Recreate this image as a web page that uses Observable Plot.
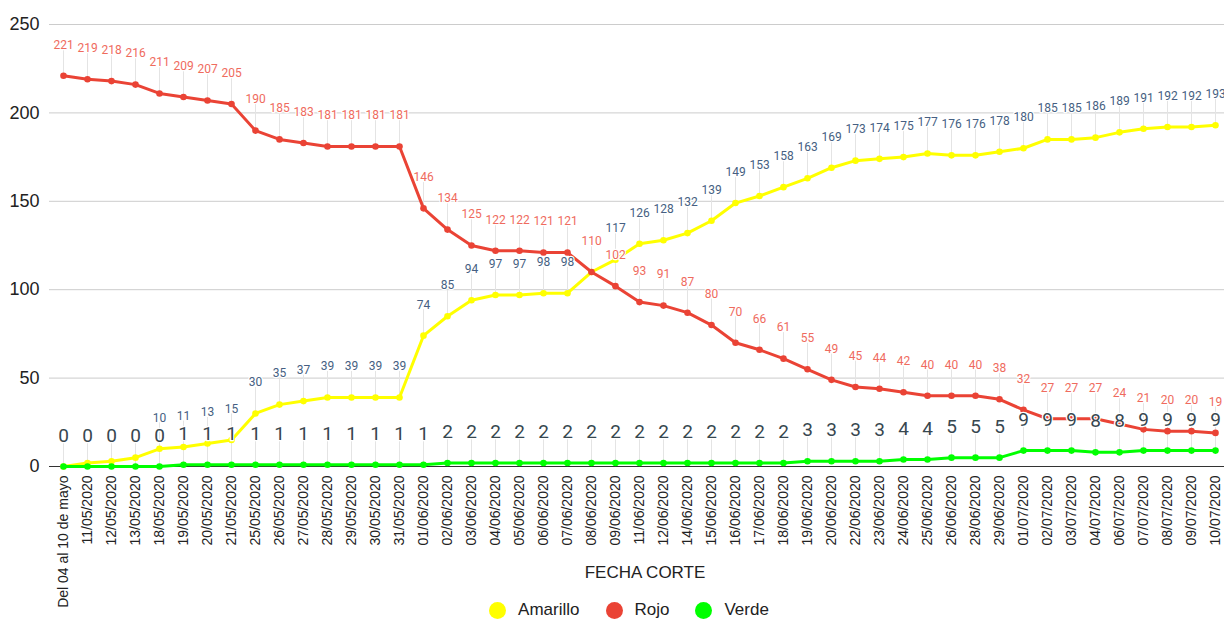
<!DOCTYPE html>
<html>
<head>
<meta charset="utf-8">
<script src="https://cdn.jsdelivr.net/npm/d3@7"></script>
<script src="https://cdn.jsdelivr.net/npm/@observablehq/plot@0.6"></script>
<style>
  body { margin: 0; background: #fff; }
  #chart svg { overflow: visible; display: block; }
  #legend { display: flex; justify-content: center; align-items: center; height: 20px;
            padding-left: 34px; font: 17px "Liberation Sans", Arial, sans-serif; color: #222; }
  #legend .item { display: flex; align-items: center; margin: 0 13px; }
  #legend .sw { width: 17px; height: 17px; border-radius: 50%; margin-right: 12px; }
</style>
</head>
<body>
<div id="chart"></div>
<div id="legend"></div>
<script>
const fechas = ["Del 04 al 10 de mayo","11/05/2020","12/05/2020","13/05/2020","18/05/2020","19/05/2020","20/05/2020","21/05/2020","25/05/2020","26/05/2020","27/05/2020","28/05/2020","29/05/2020","30/05/2020","31/05/2020","01/06/2020","02/06/2020","03/06/2020","04/06/2020","05/06/2020","06/06/2020","07/06/2020","08/06/2020","09/06/2020","11/06/2020","12/06/2020","14/06/2020","15/06/2020","16/06/2020","17/06/2020","18/06/2020","19/06/2020","20/06/2020","22/06/2020","23/06/2020","24/06/2020","25/06/2020","26/06/2020","28/06/2020","29/06/2020","01/07/2020","02/07/2020","03/07/2020","04/07/2020","06/07/2020","07/07/2020","08/07/2020","09/07/2020","10/07/2020"];
const amarillo = [0,2,3,5,10,11,13,15,30,35,37,39,39,39,39,74,85,94,97,97,98,98,110,117,126,128,132,139,149,153,158,163,169,173,174,175,177,176,176,178,180,185,185,186,189,191,192,192,193];
const rojo = [221,219,218,216,211,209,207,205,190,185,183,181,181,181,181,146,134,125,122,122,121,121,110,102,93,91,87,80,70,66,61,55,49,45,44,42,40,40,40,38,32,27,27,27,24,21,20,20,19];
const verde = [0,0,0,0,0,1,1,1,1,1,1,1,1,1,1,1,2,2,2,2,2,2,2,2,2,2,2,2,2,2,2,3,3,3,3,4,4,5,5,5,9,9,9,8,8,9,9,9,9];
// Amarillo labels that the reference hides behind other labels
const amarilloOcultos = [0,1,2,3,22];
const yTicks = [0,50,100,150,200,250];
const seriesNames = ["Amarillo","Rojo","Verde"];
const seriesColors = ["#ffff00","#ea4335","#00ff00"];
const labelColors = ["#465f82","#ef6b5e","#37474f"];
const xTitle = "FECHA CORTE";

const rowsOf = (vals) => vals.map((v, i) => ({fecha: fechas[i], valor: v, i}));
const rA = rowsOf(amarillo), rR = rowsOf(rojo), rV = rowsOf(verde);
const rALabels = rA.filter(d => !amarilloOcultos.includes(d.i));

const lineMarks = (rows, color) => [
  Plot.line(rows, {x: "fecha", y: "valor", stroke: color, strokeWidth: 3}),
  Plot.dot(rows, {x: "fecha", y: "valor", fill: color, r: 3.3})
];
const stem = (rows) => Plot.ruleX(rows, {x: "fecha", y1: "valor", y2: "valor", insetTop: 0, insetBottom: 26, stroke: "#e4e4e4", strokeWidth: 1});
const labels = (rows, color, size) => Plot.text(rows, {
  x: "fecha", y: "valor", text: d => String(d.valor), dy: -31,
  fill: color, fontSize: size, fontFamily: "Roboto, 'Open Sans', sans-serif",
  stroke: "white", strokeWidth: 2.5, paintOrder: "stroke"
});

const chart = Plot.plot({
  width: 1224,
  height: 600,
  marginLeft: 49,
  marginRight: 0,
  marginTop: 24,
  marginBottom: 134,
  style: {fontFamily: "'Liberation Sans', Arial, sans-serif", color: "#222", background: "white"},
  x: {type: "point", domain: fechas, range: [49, 1229], padding: 0.5},
  y: {domain: [0, 250], range: [466, 24]},
  marks: [
    Plot.ruleY(yTicks.filter(t => t > 0), {stroke: "#cccccc", strokeWidth: 1}),
    Plot.axisY({ticks: yTicks, tickSize: 0, tickPadding: 10, fontSize: 18, label: null}),
    Plot.axisX({tickRotate: -90, tickSize: 0, tickPadding: 9, fontSize: 14, label: null}),
    Plot.text([xTitle], {text: d => d, frameAnchor: "bottom", dy: 111, dx: 8, fontSize: 17, fill: "#222"}),
    stem(rALabels), stem(rR), stem(rV),
    Plot.ruleY([0], {stroke: "#333333", strokeWidth: 1.2}),
    ...lineMarks(rA, seriesColors[0]),
    ...lineMarks(rR, seriesColors[1]),
    ...lineMarks(rV, seriesColors[2]),
    labels(rALabels, labelColors[0], 12),
    labels(rR, labelColors[1], 12),
    labels(rV, labelColors[2], 19)
  ]
});
document.getElementById("chart").appendChild(chart);

const legend = document.getElementById("legend");
seriesNames.forEach((name, i) => {
  const item = document.createElement("div");
  item.className = "item";
  const sw = document.createElement("span");
  sw.className = "sw";
  sw.style.background = seriesColors[i];
  const tx = document.createElement("span");
  tx.textContent = name;
  item.appendChild(sw); item.appendChild(tx);
  legend.appendChild(item);
});
</script>
</body>
</html>
